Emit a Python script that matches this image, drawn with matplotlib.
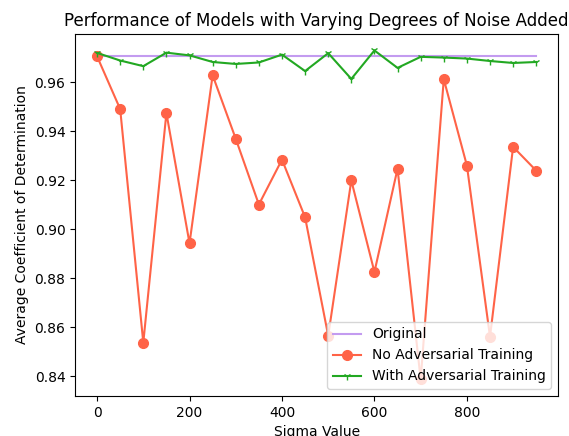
import numpy as np
from matplotlib import pyplot as plt

# Valores de sigma
sigmas = [0, 50, 100, 150, 200, 250, 300, 350, 400, 450,
          500, 550, 600, 650, 700, 750, 800, 850, 900, 950]

original_score = 0.9707

no_adv = [0.9705, 0.949, 0.8538, 0.9474, 0.8943, 0.9628, 0.9369, 0.9101, 0.9284, 0.9049,
          0.8566, 0.9199, 0.8826, 0.9247, 0.8388, 0.9612, 0.926, 0.8562, 0.9336, 0.9239]

with_adv = [0.9719, 0.9688, 0.9665, 0.972, 0.9709, 0.9682, 0.9674, 0.968, 0.9712, 0.9645,
            0.9718, 0.9613, 0.9729, 0.9658, 0.9703, 0.970, 0.9696, 0.9686, 0.9678, 0.9682]

fig, ax = plt.subplots(figsize=(5.69, 4.36), dpi=100)
fig.subplots_adjust(left=0.132, right=0.981, top=0.922, bottom=0.092)

ax.plot(sigmas, [original_score] * len(sigmas), color='#c39bf0', label='Original')
ax.plot(sigmas, no_adv, color='tomato', marker='o', markersize=7, label='No Adversarial Training')
ax.plot(sigmas, with_adv, color='#22a822', marker='1', label='With Adversarial Training')

ax.set_title("Performance of Models with Varying Degrees of Noise Added")
ax.set_xlabel("Sigma Value")
ax.set_ylabel("Average Coefficient of Determination")
ax.legend(loc='lower right')

plt.savefig("out.png")
